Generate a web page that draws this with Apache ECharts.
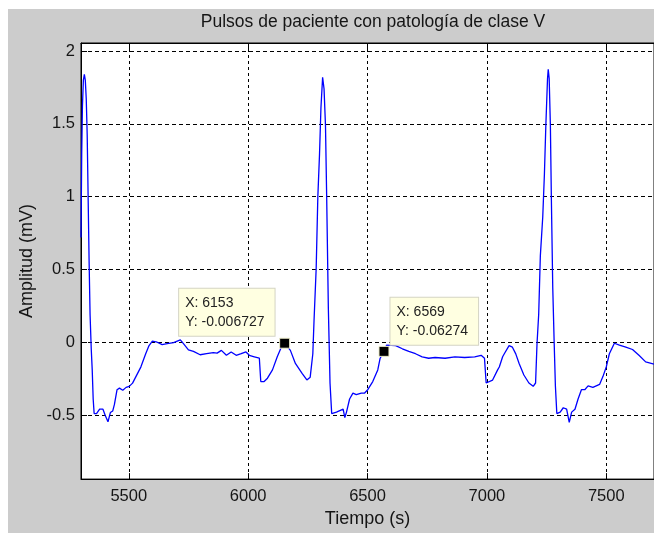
<!DOCTYPE html>
<html>
<head>
<meta charset="utf-8">
<script src="https://cdn.jsdelivr.net/npm/echarts@6/dist/echarts.min.js"></script>
<style>
  html, body { margin: 0; padding: 0; background: #ffffff; }
  #wrap { position: relative; width: 654px; height: 533px; overflow: hidden; background: #ffffff; }
  #frame { position: absolute; left: 8px; top: 9px; right: 0; bottom: 0; background: #cccccc; }
  #chart { position: absolute; left: 0; top: 0; width: 654px; height: 533px; }
</style>
</head>
<body>
<div id="wrap"><div id="frame"></div><div id="chart"></div></div>
<script>
// ---- data ----
const chartTitle = 'Pulsos de paciente con patología de clase V';
const xAxisName = 'Tiempo (s)';
const yAxisName = 'Amplitud (mV)';

const timeValues = [
  5300, 5303, 5306, 5310, 5314, 5318, 5322, 5326, 5330, 5334, 5338, 5343, 5347, 5351, 5355,
  5365, 5378, 5392, 5402, 5413, 5423, 5433, 5440, 5451, 5461, 5475, 5489, 5502, 5516, 5530,
  5551, 5571, 5585, 5599, 5619, 5640, 5661, 5688, 5716, 5730, 5750, 5771, 5799, 5826, 5854,
  5870, 5888, 5909, 5929, 5950, 5971, 5991, 6005, 6026, 6047, 6053, 6067, 6081, 6102, 6122,
  6139, 6153, 6177, 6198, 6226, 6246, 6260, 6271, 6276, 6285, 6292, 6299, 6305, 6312, 6318,
  6324, 6329, 6336, 6343, 6350, 6370, 6384, 6398, 6405, 6412, 6425, 6439, 6453, 6474, 6487,
  6501, 6522, 6543, 6553, 6569, 6580, 6618, 6646, 6673, 6701, 6729, 6756, 6783, 6825, 6866,
  6907, 6949, 6976, 6990, 6997, 7004, 7024, 7031, 7045, 7052, 7066, 7073, 7093, 7107, 7121,
  7135, 7155, 7176, 7194, 7204, 7210, 7217, 7224, 7234, 7241, 7247, 7254, 7257, 7261, 7266,
  7270, 7276, 7282, 7287, 7293, 7307, 7320, 7334, 7345, 7355, 7369, 7382, 7396, 7410, 7424,
  7444, 7472, 7486, 7500, 7513, 7534, 7555, 7582, 7610, 7637, 7665, 7700
];
const amplitudeValues = [
  0.72, 1.30, 1.62, 1.80, 1.84, 1.80, 1.67, 1.42, 0.98, 0.55, 0.19, -0.05, -0.19, -0.39, -0.49,
  -0.49, -0.46, -0.46, -0.505, -0.546, -0.483, -0.472, -0.427, -0.326, -0.315, -0.33, -0.31, -0.303, -0.281, -0.236,
  -0.169, -0.079, -0.023, 0.007, 0.0, -0.016, -0.01, -0.003, 0.016, -0.011, -0.052, -0.063, -0.086, -0.079, -0.072,
  -0.075, -0.056, -0.09, -0.067, -0.09, -0.079, -0.067, -0.09, -0.10, -0.11, -0.27, -0.27, -0.247, -0.19, -0.10,
  -0.034, -0.006727, -0.056, -0.146, -0.214, -0.259, -0.24, -0.079, 0.146, 0.505, 1.0, 1.29, 1.61, 1.82, 1.74,
  1.49, 1.0, 0.236, -0.28, -0.49, -0.48, -0.47, -0.46, -0.517, -0.48, -0.39, -0.35, -0.36, -0.35, -0.35,
  -0.326, -0.27, -0.19, -0.11, -0.06274, -0.02, -0.023, -0.045, -0.063, -0.079, -0.10, -0.11, -0.105, -0.11, -0.10,
  -0.105, -0.10, -0.09, -0.11, -0.28, -0.29, -0.26, -0.247, -0.19, -0.17, -0.10, -0.079, -0.023, -0.034, -0.08,
  -0.146, -0.225, -0.28, -0.303, -0.28, -0.011, 0.19, 0.595, 0.86, 1.156, 1.49, 1.81, 1.875, 1.81, 1.49,
  1.0, 0.37, -0.01, -0.30, -0.49, -0.48, -0.45, -0.46, -0.55, -0.48, -0.46, -0.39, -0.326, -0.326, -0.30,
  -0.31, -0.29, -0.236, -0.17, -0.079, -0.007, -0.02, -0.034, -0.05, -0.09, -0.135, -0.15
];

// data tips
const tipTimes = [6153, 6569];
const tipValues = [-0.006727, -0.06274];

const xMin = 5300, xMax = 7700;
const yMin = -0.94, yMax = 2.055;

// ---- chart ----
const FONT = '"Liberation Sans", Arial, sans-serif';
const TXT = '#151515';
const chart = echarts.init(document.getElementById('chart'), null, { renderer: 'canvas' });

const linePoints = timeValues.map((t, i) => [t, amplitudeValues[i]]);

const tipLabelStyles = [
  { position: [-100, -2], align: 'left', verticalAlign: 'bottom' },
  { position: [12, -1], align: 'left', verticalAlign: 'bottom' }
];
const tipPoints = tipTimes.map((t, i) => ({
  value: [t, tipValues[i]],
  label: Object.assign({
    show: true,
    formatter: 'X: ' + t + '\nY: ' + tipValues[i],
    backgroundColor: '#ffffe1',
    borderColor: '#d4d4c4',
    borderWidth: 1,
    padding: [5, 10, 4, 6],
    color: '#222',
    fontFamily: FONT,
    fontSize: 14,
    lineHeight: 19
  }, tipLabelStyles[i])
}));

const plainNum = v => String(v);

chart.setOption({
  backgroundColor: 'transparent',
  animation: false,
  title: {
    text: chartTitle,
    left: 368, top: 8, textAlign: 'center',
    textStyle: { fontFamily: FONT, fontSize: 17.5, fontWeight: 'normal', color: TXT }
  },
  grid: {
    left: 81, top: 43, width: 581, height: 445,
    show: true, backgroundColor: '#ffffff', borderColor: '#000', borderWidth: 1
  },
  xAxis: [{
    type: 'value', min: xMin, max: xMax, splitNumber: 5,
    name: xAxisName, nameLocation: 'middle', nameGap: 26,
    nameTextStyle: { fontFamily: FONT, fontSize: 18, color: TXT },
    axisLine: { show: true, onZero: false, lineStyle: { color: '#000' } },
    axisTick: { show: true, inside: true, length: 6, lineStyle: { color: '#000' } },
    axisLabel: { fontFamily: FONT, fontSize: 16.5, color: TXT, margin: 9, formatter: plainNum, showMinLabel: false, showMaxLabel: false },
    splitLine: { show: true, lineStyle: { color: '#000', type: [3, 3], width: 1 } }
  }, {
    type: 'value', min: xMin, max: xMax, splitNumber: 5, position: 'top',
    axisLine: { show: true, onZero: false, lineStyle: { color: '#000' } },
    axisTick: { show: true, inside: true, length: 6, lineStyle: { color: '#000' } },
    axisLabel: { show: false }, splitLine: { show: false }
  }],
  yAxis: [{
    type: 'value', min: yMin, max: yMax, splitNumber: 6,
    name: yAxisName, nameLocation: 'middle', nameGap: 44, nameRotate: 90,
    nameTextStyle: { fontFamily: FONT, fontSize: 18, color: TXT },
    axisLine: { show: true, onZero: false, lineStyle: { color: '#000' } },
    axisTick: { show: true, inside: true, length: 6, lineStyle: { color: '#000' } },
    axisLabel: { fontFamily: FONT, fontSize: 16.5, color: TXT, margin: 6, formatter: plainNum, showMinLabel: false, showMaxLabel: false },
    splitLine: { show: true, lineStyle: { color: '#000', type: [4, 3], width: 1 } }
  }],
  series: [{
    type: 'line', data: linePoints, showSymbol: false, symbol: 'none',
    lineStyle: { color: '#0000ff', width: 1.3 }, clip: true, z: 3
  }, {
    type: 'scatter', data: tipPoints, symbol: 'rect', symbolSize: 10,
    zlevel: 1, z: 10,
    itemStyle: { color: '#000000', opacity: 1, borderColor: '#eeeecc', borderWidth: 1 },
    emphasis: { disabled: true }
  }]
});
</script>
</body>
</html>
